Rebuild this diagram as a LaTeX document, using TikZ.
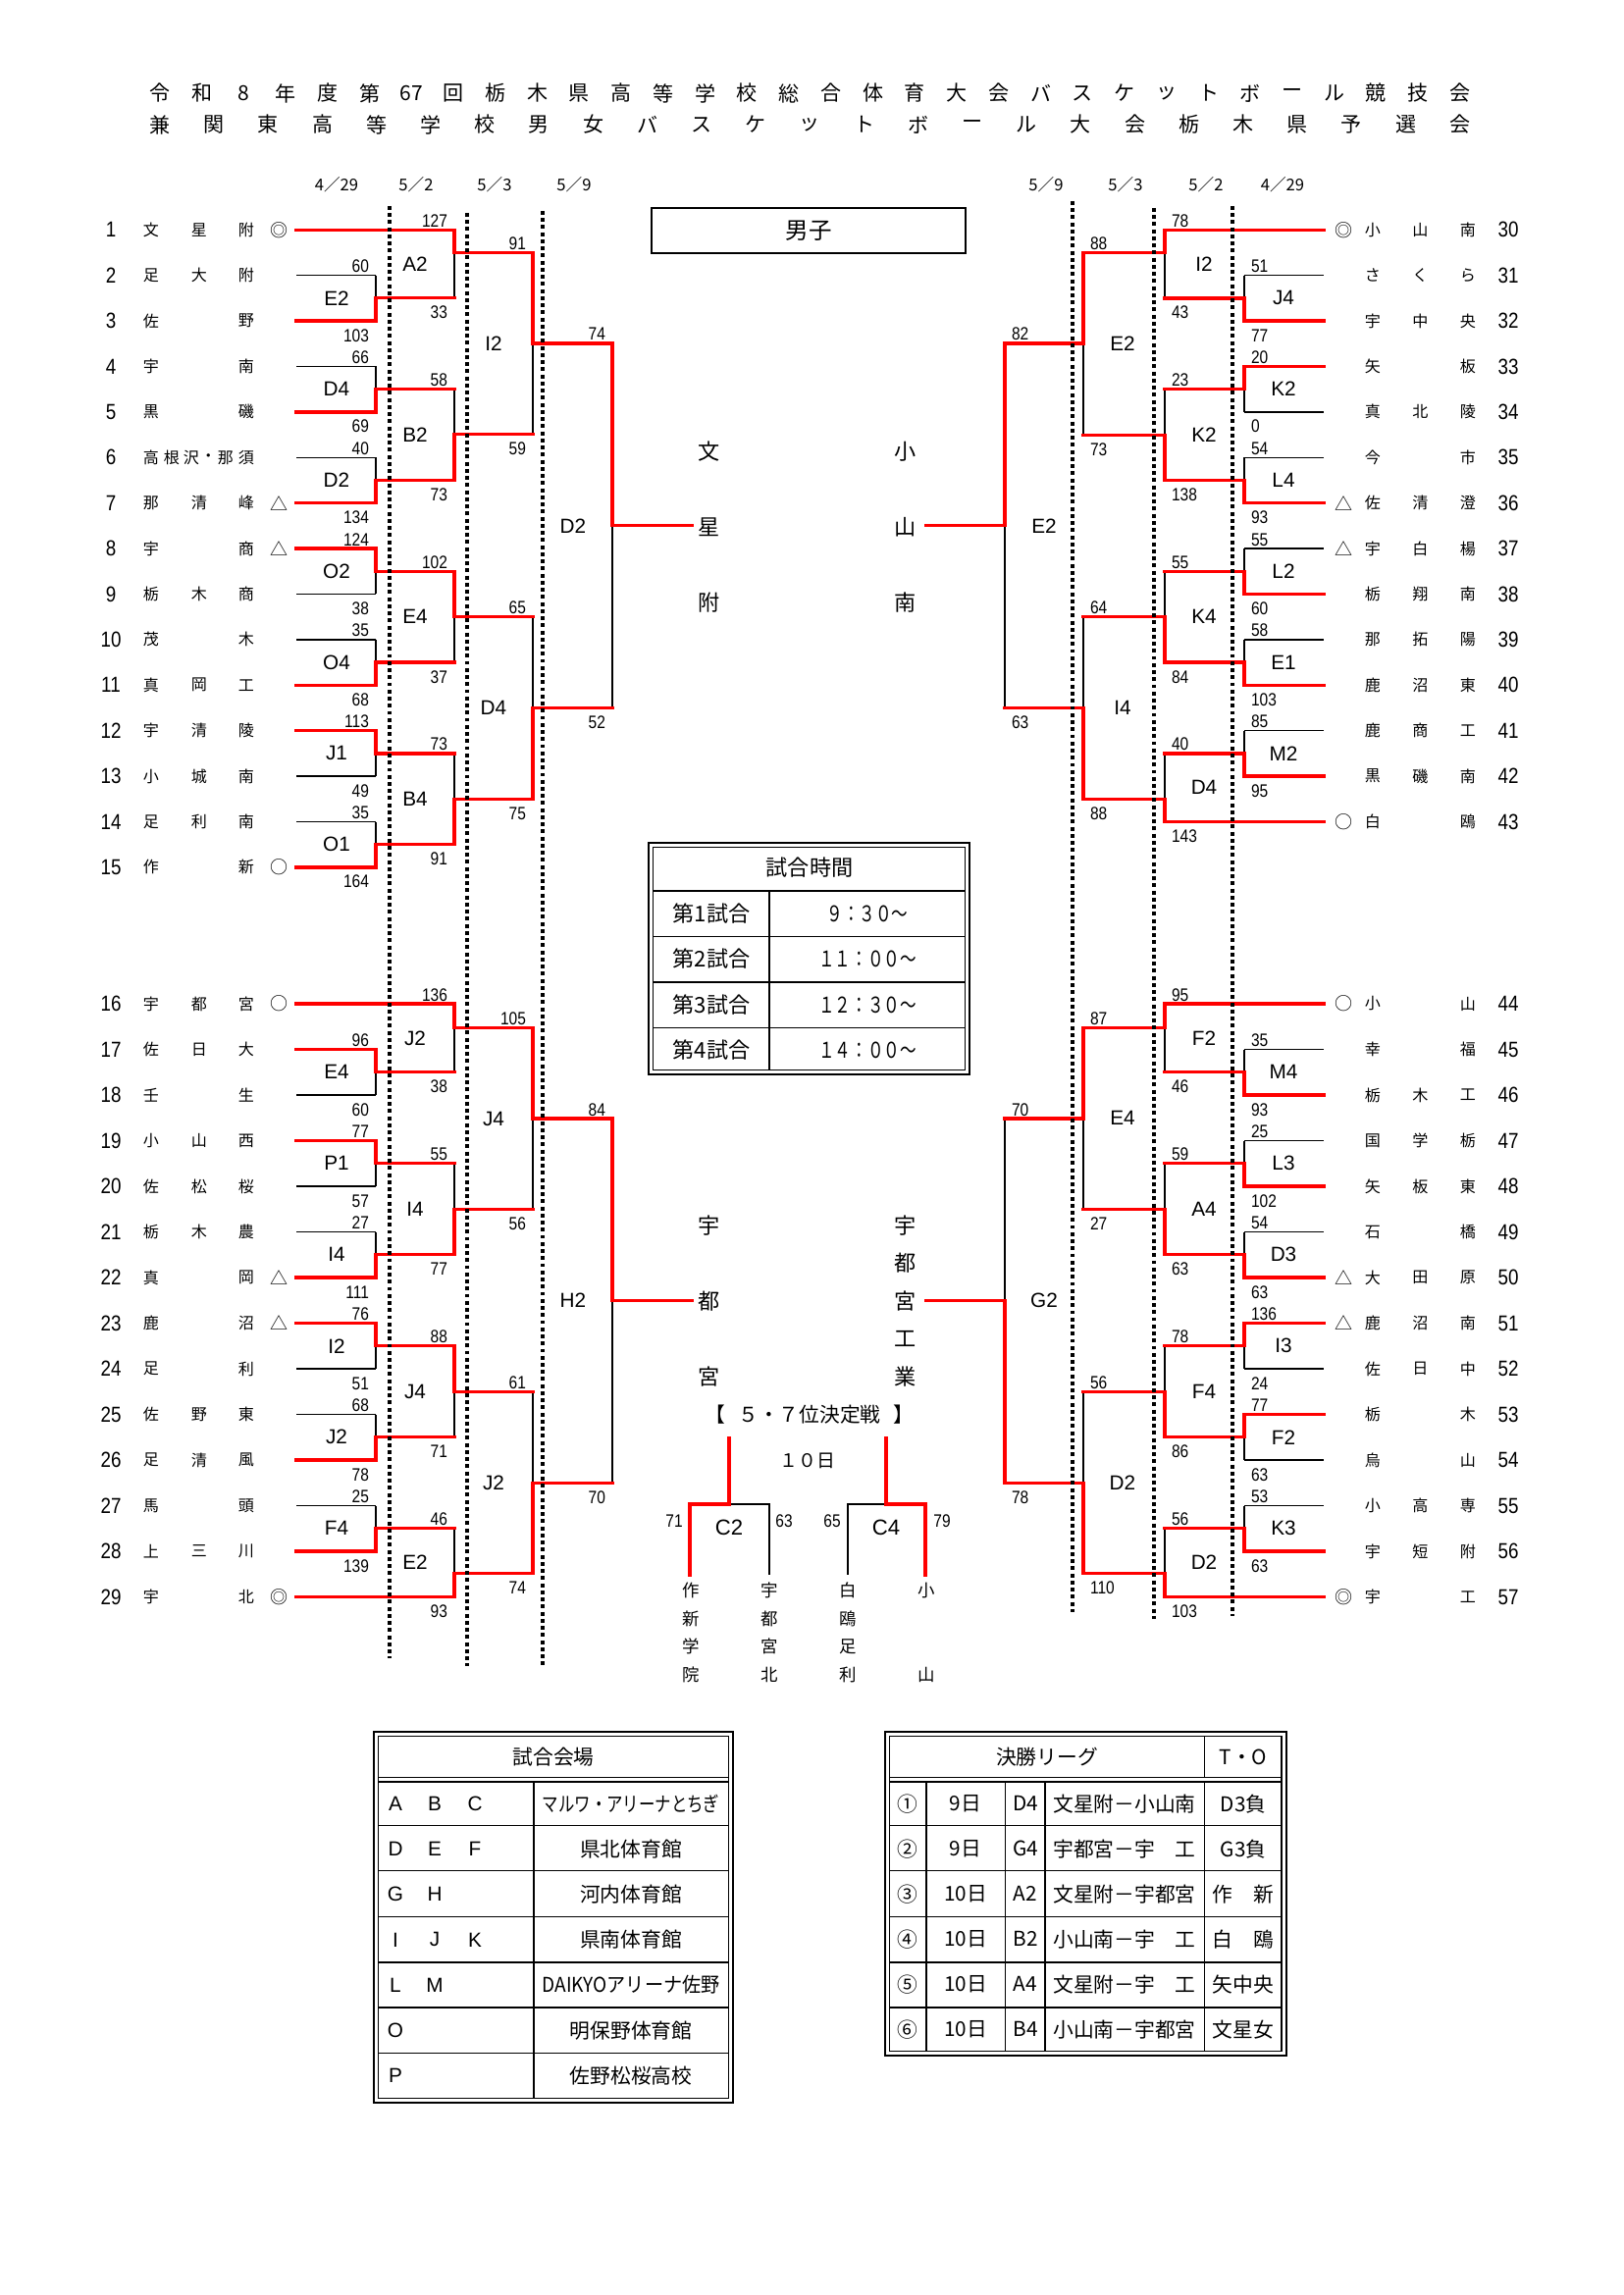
\documentclass[tikz,border=0pt]{standalone}
\usepackage{fontspec}
\usepackage{xcolor}
\usepackage{graphicx}
\usepackage{tikz}
\setmainfont{Noto Sans CJK JP}
\newfontfamily\narrowsans[FakeStretch=0.85]{Liberation Sans}
\newfontfamily\plainsans{Liberation Sans}
\definecolor{BKRed}{HTML}{FF0000}
\pgfdeclarelayer{back}
\pgfsetlayers{back,main}

% one game: join x, top in y, bottom in y, out y, next join x, winner t/b, code, top score, bottom score
\newcommand\game[9]{%
  \ifdim #1pt<826pt\def\gsgn{-1}\def\ganc{base east}\else\def\gsgn{1}\def\ganc{base west}\fi
  \begin{pgfonlayer}{back}
    \if t#6\draw[lose] (#1,#4) -- (#1,#3);\else\draw[lose] (#1,#2) -- (#1,#4);\fi
  \end{pgfonlayer}
  \if t#6\draw[win] (#1,#2) -- (#1,#4) -- (#5,#4);\else\draw[win] (#1,#3) -- (#1,#4) -- (#5,#4);\fi
  \node[gamecode] at ({#1+40*\gsgn},{(#2+#3)/2}) {#7};
  \node[pts,anchor=\ganc] at ({#1+6.5*\gsgn},{#2-3}) {#8};
  \node[pts,anchor=\ganc] at ({#1+6.5*\gsgn},{#3+21}) {#9};
}

\begin{document}
\begin{tikzpicture}[x=0.12696mm,y=-0.12696mm,
  win/.style={draw=BKRed,line width=0.42mm,line cap=rect},
  lose/.style={draw=black,line width=0.17mm},
  daycol/.style={draw=black,line width=0.6mm,dash pattern=on 0.5mm off 0.42mm},
  team/.style={font=\fontsize{5.8}{6}\selectfont,inner sep=0},
  seedmark/.style={font=\fontsize{6.5}{7}\selectfont,inner sep=0},
  rowno/.style={font=\narrowsans\fontsize{8}{9}\selectfont,inner sep=0},
  pts/.style={font=\narrowsans\fontsize{6.6}{7}\selectfont,inner sep=0},
  gamecode/.style={font=\plainsans\fontsize{7.5}{8}\selectfont,inner sep=0},
  daylbl/.style={font=\fontsize{6}{7}\selectfont,inner sep=0},
  headch/.style={font=\fontsize{7.6}{8}\selectfont,inner sep=0},
  champ/.style={font=\fontsize{8}{9}\selectfont,inner sep=0},
  tblout/.style={draw=black,line width=0.25mm},
  tblin/.style={draw=black,line width=0.17mm},
  tbhead/.style={font=\fontsize{8}{9}\selectfont,inner sep=0},
  tbtext/.style={font=\fontsize{7.5}{8}\selectfont,inner sep=0},
  letr/.style={font=\plainsans\fontsize{7.5}{8}\selectfont,inner sep=0}]
\path[use as bounding box] (0,0) rectangle (1654,2339);

% title
\foreach \c [count=\i from 0] in {令,和,8,年,度,第,67,回,栃,木,県,高,等,学,校,総,合,体,育,大,会,バ,ス,ケ,ッ,ト,ボ,ー,ル,競,技,会}
  \node[headch] at ({163+\i*42.74},95) {\c};
\foreach \c [count=\i from 0] in {兼,関,東,高,等,学,校,男,女,バ,ス,ケ,ッ,ト,ボ,ー,ル,大,会,栃,木,県,予,選,会}
  \node[headch] at ({163+\i*55.2},127) {\c};

\foreach \x/\d in {343/4／29,424/5／2,504/5／3,585/5／9,1066/5／9,1147/5／3,1229/5／2,1307/4／29}
  \node[daylbl] at (\x,188) {\d};

% teams, left
\foreach \n/\a/\b/\c/\m/\e/\s in {1/文/星/附/◎/463/win,2/足/大/附/{}/383/lose,3/佐/{}/野/{}/383/win,
  4/宇/{}/南/{}/383/lose,5/黒/{}/磯/{}/383/win,6/{}/{}/{}/{}/383/lose,7/那/清/峰/△/383/win,
  8/宇/{}/商/△/383/win,9/栃/木/商/{}/383/lose,10/茂/{}/木/{}/383/lose,11/真/岡/工/{}/383/win,
  12/宇/清/陵/{}/383/win,13/小/城/南/{}/383/lose,14/足/利/南/{}/383/lose,15/作/{}/新/○/383/win}{
  \pgfmathsetmacro\y{234.3+(\n-1)*46.4}
  \node[rowno] (n\n) at (113,\y) {\n};
  \node[team] at (154,\y) {\a};
  \node[team] at (203,\y) {\b};
  \node[team] at (251,\y) {\c};
  \node[seedmark] at (284,\y) {\m};
  \draw[\s] (302,\y) -- (\e,\y);
}
\foreach \c/\x in {高/154,根/175,沢/195,・/212.5,那/230,須/251}
  \node[team] at (\x,466.3) {\c};
\foreach \n/\a/\b/\c/\m/\e/\s in {16/宇/都/宮/○/463/win,17/佐/日/大/{}/383/win,18/壬/{}/生/{}/383/lose,
  19/小/山/西/{}/383/win,20/佐/松/桜/{}/383/lose,21/栃/木/農/{}/383/lose,22/真/{}/岡/△/383/win,
  23/鹿/{}/沼/△/383/win,24/足/{}/利/{}/383/lose,25/佐/野/東/{}/383/lose,26/足/清/風/{}/383/win,
  27/馬/{}/頭/{}/383/lose,28/上/三/川/{}/383/win,29/宇/{}/北/◎/463/win}{
  \pgfmathsetmacro\y{1023+(\n-16)*46.5}
  \node[rowno] (n\n) at (113,\y) {\n};
  \node[team] at (154,\y) {\a};
  \node[team] at (203,\y) {\b};
  \node[team] at (251,\y) {\c};
  \node[seedmark] at (284,\y) {\m};
  \draw[\s] (302,\y) -- (\e,\y);
}

% teams, right
\foreach \n/\m/\a/\b/\c/\e/\s in {30/◎/小/山/南/1187/win,31/{}/さ/く/ら/1268/lose,32/{}/宇/中/央/1268/win,
  33/{}/矢/{}/板/1268/win,34/{}/真/北/陵/1268/lose,35/{}/今/{}/市/1268/lose,36/△/佐/清/澄/1268/win,
  37/△/宇/白/楊/1268/lose,38/{}/栃/翔/南/1268/win,39/{}/那/拓/陽/1268/lose,40/{}/鹿/沼/東/1268/win,
  41/{}/鹿/商/工/1268/lose,42/{}/黒/磯/南/1268/win,43/○/白/{}/鴎/1187/win}{
  \pgfmathsetmacro\y{234.3+(\n-30)*46.4}
  \node[rowno] (n\n) at (1537,\y) {\n};
  \node[team] at (1399,\y) {\a};
  \node[team] at (1447.5,\y) {\b};
  \node[team] at (1496,\y) {\c};
  \node[seedmark] at (1369,\y) {\m};
  \draw[\s] (1349,\y) -- (\e,\y);
}
\foreach \n/\m/\a/\b/\c/\e/\s in {44/○/小/{}/山/1187/win,45/{}/幸/{}/福/1268/lose,46/{}/栃/木/工/1268/win,
  47/{}/国/学/栃/1268/lose,48/{}/矢/板/東/1268/win,49/{}/石/{}/橋/1268/lose,50/△/大/田/原/1268/win,
  51/△/鹿/沼/南/1268/win,52/{}/佐/日/中/1268/lose,53/{}/栃/{}/木/1268/win,54/{}/烏/{}/山/1268/lose,
  55/{}/小/高/専/1268/lose,56/{}/宇/短/附/1268/win,57/◎/宇/{}/工/1187/win}{
  \pgfmathsetmacro\y{1023+(\n-44)*46.5}
  \node[rowno] (n\n) at (1537,\y) {\n};
  \node[team] at (1399,\y) {\a};
  \node[team] at (1447.5,\y) {\b};
  \node[team] at (1496,\y) {\c};
  \node[seedmark] at (1369,\y) {\m};
  \draw[\s] (1349,\y) -- (\e,\y);
}

% left bracket
\game{383}{280.7}{327.1}{303.3}{463}{b}{E2}{60}{103}
\game{383}{373.5}{419.9}{396.7}{463}{b}{D4}{66}{69}
\game{383}{466.3}{512.7}{489.3}{463}{b}{D2}{40}{134}
\game{383}{559.1}{605.5}{582.3}{463}{t}{O2}{124}{38}
\game{383}{651.9}{698.3}{675.1}{463}{b}{O4}{35}{68}
\game{383}{744.7}{791.1}{767.9}{463}{t}{J1}{113}{49}
\game{383}{837.5}{883.9}{860.7}{463}{b}{O1}{35}{164}
\game{383}{1069.5}{1116}{1092.8}{463}{t}{E4}{96}{60}
\game{383}{1162.5}{1209}{1185.8}{463}{t}{P1}{77}{57}
\game{383}{1255.5}{1302}{1278.8}{463}{b}{I4}{27}{111}
\game{383}{1348.5}{1395}{1371.8}{463}{t}{I2}{76}{51}
\game{383}{1441.5}{1488}{1464.8}{463}{b}{J2}{68}{78}
\game{383}{1534.5}{1581}{1557.8}{463}{b}{F4}{25}{139}
\game{463}{234.3}{303.3}{257.3}{543}{t}{A2}{127}{33}
\game{463}{396.7}{489.3}{442.7}{543}{b}{B2}{58}{73}
\game{463}{582.3}{675.1}{628.7}{543}{t}{E4}{102}{37}
\game{463}{767.9}{860.7}{814.7}{543}{b}{B4}{73}{91}
\game{463}{1023}{1092.8}{1047.7}{543}{t}{J2}{136}{38}
\game{463}{1185.8}{1278.8}{1232.3}{543}{b}{I4}{55}{77}
\game{463}{1371.8}{1464.8}{1418.7}{543}{t}{J4}{88}{71}
\game{463}{1557.8}{1627.5}{1603.3}{543}{b}{E2}{46}{93}
\game{543}{257.3}{442.7}{350}{624}{t}{I2}{91}{59}
\game{543}{628.7}{814.7}{721.7}{624}{b}{D4}{65}{75}
\game{543}{1047.7}{1232.3}{1140}{624}{t}{J4}{105}{56}
\game{543}{1418.7}{1603.3}{1511.3}{624}{b}{J2}{61}{74}
\game{624}{350}{721.7}{535.7}{705}{t}{D2}{74}{52}
\game{624}{1140}{1511.3}{1325.7}{705}{t}{H2}{84}{70}

% right bracket
\game{1268}{280.7}{327.1}{303.9}{1187}{b}{J4}{51}{77}
\game{1268}{373.5}{419.9}{396.7}{1187}{t}{K2}{20}{0}
\game{1268}{466.3}{512.7}{489.5}{1187}{b}{L4}{54}{93}
\game{1268}{559.1}{605.5}{582.3}{1187}{b}{L2}{55}{60}
\game{1268}{651.9}{698.3}{675.1}{1187}{b}{E1}{58}{103}
\game{1268}{744.7}{791.1}{767.9}{1187}{b}{M2}{85}{95}
\game{1268}{1069.5}{1116}{1092.8}{1187}{b}{M4}{35}{93}
\game{1268}{1162.5}{1209}{1185.8}{1187}{b}{L3}{25}{102}
\game{1268}{1255.5}{1302}{1278.8}{1187}{b}{D3}{54}{63}
\game{1268}{1348.5}{1395}{1371.8}{1187}{t}{I3}{136}{24}
\game{1268}{1441.5}{1488}{1464.8}{1187}{t}{F2}{77}{63}
\game{1268}{1534.5}{1581}{1557.8}{1187}{b}{K3}{53}{63}
\game{1187}{234.3}{303.9}{257.3}{1104}{t}{I2}{78}{43}
\game{1187}{396.7}{489.5}{443.3}{1104}{b}{K2}{23}{138}
\game{1187}{582.3}{675.1}{628.7}{1104}{b}{K4}{55}{84}
\game{1187}{767.9}{837.5}{814.7}{1104}{b}{D4}{40}{143}
\game{1187}{1023}{1092.8}{1047.3}{1104}{t}{F2}{95}{46}
\game{1187}{1185.8}{1278.8}{1232.3}{1104}{b}{A4}{59}{63}
\game{1187}{1371.8}{1464.8}{1418.7}{1104}{b}{F4}{78}{86}
\game{1187}{1557.8}{1627.5}{1603.3}{1104}{b}{D2}{56}{103}
\game{1104}{257.3}{443.3}{350}{1024}{t}{E2}{88}{73}
\game{1104}{628.7}{814.7}{721.7}{1024}{b}{I4}{64}{88}
\game{1104}{1047.3}{1232.3}{1140}{1024}{t}{E4}{87}{27}
\game{1104}{1418.7}{1603.3}{1511.3}{1024}{b}{D2}{56}{110}
\game{1024}{350}{721.7}{535.7}{944}{t}{E2}{82}{63}
\game{1024}{1140}{1511.3}{1325.7}{944}{b}{G2}{70}{78}

\foreach \x/\ya/\yb in {397/210/1690,476/217/1698,553/215/1698,1093/205/1643,1176/212/1650,1256/210/1647}
  \draw[daycol] (\x,\ya) -- (\x,\yb);

% finalists
\foreach \c [count=\i from 0] in {文,星,附} \node[champ] at (723,{460+\i*77}) {\c};
\foreach \c [count=\i from 0] in {小,山,南} \node[champ] at (923,{460+\i*77}) {\c};
\foreach \c [count=\i from 0] in {宇,都,宮} \node[champ] at (723,{1249+\i*77}) {\c};
\foreach \c [count=\i from 0] in {宇,都,宮,工,業} \node[champ] at (923,{1249+\i*38.5}) {\c};

\draw[tblout] (664,212) rectangle (984,258);
\node[font=\fontsize{8.5}{9}\selectfont,inner sep=0] (boys) at (824,235) {男子};

% game times
\draw[tblout] (661,859) rectangle (988,1095);
\draw[tblin] (665.5,863.5) rectangle (983.5,1090.5);
\draw[tblout] (665.5,907.6) -- (983.5,907.6);
\foreach \y in {954.6,1001,1047.4} \draw[tblin] (665.5,\y) -- (983.5,\y);
\draw[tblin] (784,907.6) -- (784,1090.5);
\node[tbhead] (timehead) at (825,884) {試合時間};
\foreach \i/\t in {1/９：３０～,2/１１：００～,3/１２：３０～,4/１４：００～}{
  \node[tbhead] at (725,{931+(\i-1)*46.5}) {第\i 試合};
  \node[tbhead] at (884,{931+(\i-1)*46.5}) {\scalebox{0.75}[1]{\t}};
}

% 5-7 place
\node[tbtext] (brkl) at (729,1442) {【};
\node[tbtext] (place57) at (825,1442) {５・７位決定戦};
\node[tbtext] (brkr) at (921,1442) {】};
\node[font=\fontsize{6.8}{7}\selectfont,inner sep=0] (day10) at (823,1489) {１０日};
\draw[lose] (743,1533) -- (784,1533) -- (784,1605);
\draw[win] (743,1465.5) -- (743,1533) -- (703,1533) -- (703,1605);
\draw[lose] (903,1533) -- (864,1533) -- (864,1605);
\draw[win] (903,1465.5) -- (903,1533) -- (943,1533) -- (943,1605);
\node[font=\plainsans\fontsize{8}{9}\selectfont,inner sep=0] (c2) at (743,1557) {C2};
\node[font=\plainsans\fontsize{8}{9}\selectfont,inner sep=0] (c4) at (903,1557) {C4};
\foreach \x/\p in {687/71,799/63,848/65,960/79} \node[pts] at (\x,1550) {\p};
\foreach \i/\p/\q/\r in {0/作/宇/白,1/新/都/鴎,2/学/宮/足,3/院/北/利}{
  \node[team,font=\fontsize{6.3}{7}\selectfont] at (704,{1621+\i*28.5}) {\p};
  \node[team,font=\fontsize{6.3}{7}\selectfont] at (784,{1621+\i*28.5}) {\q};
  \node[team,font=\fontsize{6.3}{7}\selectfont] at (864,{1621+\i*28.5}) {\r};
}
\node[team,font=\fontsize{6.3}{7}\selectfont] at (944,1621) {小};
\node[team,font=\fontsize{6.3}{7}\selectfont] at (944,1706.5) {山};

% venues
\draw[tblout] (381,1765) rectangle (747,2143);
\draw[tblin] (385.5,1769.5) rectangle (742.5,2138.5);
\draw[tblin] (385.5,1811.7) -- (742.5,1811.7);
\draw[tblin] (385.5,1816) -- (742.5,1816);
\foreach \y in {1860.7,1906.7,1953.3,2000,2046,2092.7} \draw[tblin] (385.5,\y) -- (742.5,\y);
\draw[tblin] (544,1816) -- (544,2138.5);
\node[tbtext] (venuehead) at (564,1791) {試合会場};
\foreach \i/\a/\b/\c/\v in {0/A/B/C/{\scalebox{0.79}[1]{マルワ・アリーナとちぎ}},1/D/E/F/県北体育館,
  2/G/H/{}/河内体育館,3/I/J/K/県南体育館,4/L/M/{}/{\scalebox{0.92}[1]{DAIKYOアリーナ佐野}},
  5/O/{}/{}/明保野体育館,6/P/{}/{}/佐野松桜高校}{
  \node[letr] at (403,{1838.3+\i*46.2}) {\a};
  \node[letr] at (443,{1838.3+\i*46.2}) {\b};
  \node[letr] at (484,{1838.3+\i*46.2}) {\c};
  \node[tbtext] at (643,{1838.3+\i*46.2}) {\v};
}

% final league
\draw[tblout] (902,1765) rectangle (1310.6,2095);
\draw[tblin] (906.5,1769.5) rectangle (1306,2090.5);
\draw[tblin] (906.5,1811.7) -- (1306,1811.7);
\draw[tblin] (906.5,1816) -- (1306,1816);
\draw[tblin] (1227.6,1769.5) -- (1227.6,1811.7);
\foreach \x in {944,1024.5,1065,1227.6} \draw[tblin] (\x,1816) -- (\x,2090.5);
\foreach \y in {1860.7,1906.7,1953.3,2000,2046} \draw[tblin] (906.5,\y) -- (1306,\y);
\node[tbtext] (leaguehead) at (1067,1791) {決勝リーグ};
\node[tbtext] (tohead) at (1267,1791) {T・O};
\foreach \i/\a/\b/\c/\d/\e in {1/①/9日/D4/文星附－小山南/D3負,2/②/9日/G4/宇都宮－宇　工/G3負,
  3/③/10日/A2/文星附－宇都宮/作　新,4/④/10日/B2/小山南－宇　工/白　鴎,
  5/⑤/10日/A4/文星附－宇　工/矢中央,6/⑥/10日/B4/小山南－宇都宮/文星女}{
  \pgfmathsetmacro\y{1838.3+(\i-1)*46}
  \node[tbtext] at (925,\y) {\a};
  \node[tbtext] at (984,\y) {\b};
  \node[tbtext] at (1045,\y) {\c};
  \node[tbtext] at (1146,\y) {\d};
  \node[tbtext] at (1267,\y) {\e};
}
\end{tikzpicture}
\end{document}
